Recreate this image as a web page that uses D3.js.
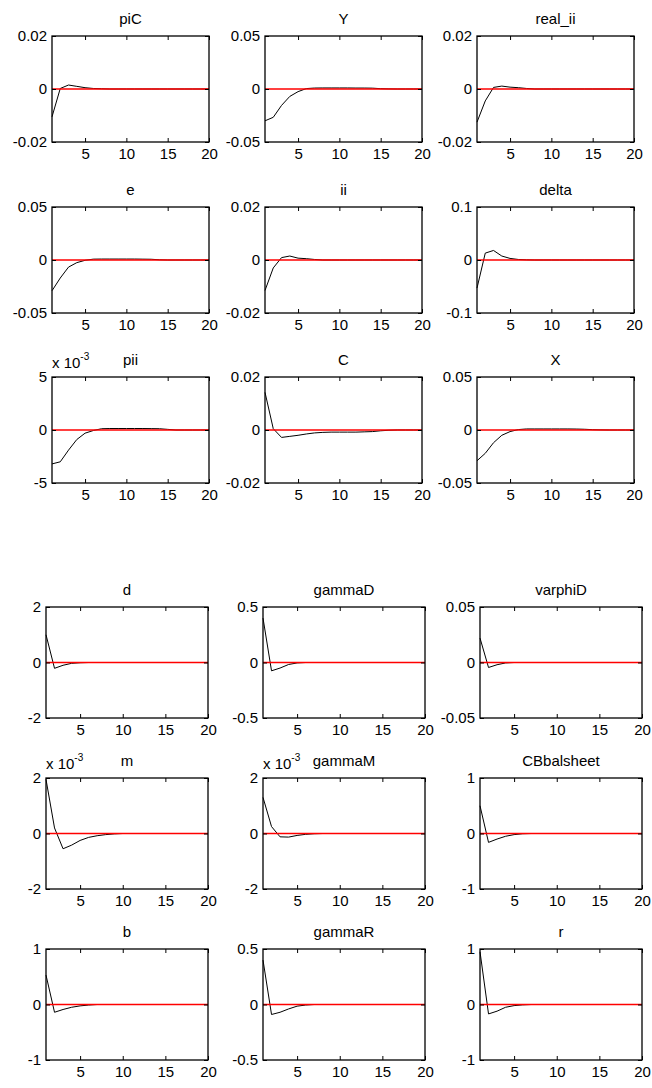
<!DOCTYPE html>
<html><head><meta charset="utf-8">
<script src="https://cdn.jsdelivr.net/npm/d3@7"></script>
<style>
body{margin:0;background:#fff}
text{font-family:"Liberation Sans",Arial,Helvetica,sans-serif;fill:#000}
</style>
</head><body>
<svg id="chart" width="652" height="1088"></svg>
<script>
// ---------- data ----------
const periods = [1,2,3,4,5,6,7,8,9,10,11,12,13,14,15,16,17,18,19,20];
const xTickValues = [5,10,15,20];

// top figure
const topTitles = ["piC","Y","real_ii","e","ii","delta","pii","C","X"];
const piC    = [-0.0105,0.0002,0.0015,0.0010,0.0005,0.0002,0.0001,0,0,0,0,0,0,0,0,0,0,0,0,0];
const Y      = [-0.0300,-0.0267,-0.0155,-0.0070,-0.0025,0.0004,0.0009,0.0010,0.0010,0.0010,0.0010,0.0009,0.0009,0.0008,0.0003,0.0001,0,0,0,0];
const real_ii= [-0.0125,-0.0045,0.0006,0.0011,0.0007,0.0005,0.0002,0,0,0,0,0,0,0,0,0,0,0,0,0];
const e      = [-0.0290,-0.0170,-0.0067,-0.0025,-0.0003,0.0008,0.0009,0.0009,0.0009,0.0009,0.0009,0.0008,0.0007,0.0002,0,0,0,0,0,0];
const ii     = [-0.0115,-0.0030,0.0009,0.0015,0.0007,0.0005,0.0002,0,0,0,0,0,0,0,0,0,0,0,0,0];
const delta  = [-0.0530,0.0130,0.0180,0.0075,0.0030,0.0010,0.0003,0,0,0,0,0,0,0,0,0,0,0,0,0];
const pii    = [-0.0032,-0.0030,-0.0019,-0.0009,-0.0003,-0.00005,0.00012,0.00014,0.00014,0.00014,0.00014,0.00014,0.00013,0.00012,0.00006,0,0,0,0,0];
const C      = [0.0142,0.0005,-0.0028,-0.0024,-0.0020,-0.0015,-0.0011,-0.0009,-0.0008,-0.0008,-0.0008,-0.0008,-0.0007,-0.0006,-0.0003,-0.0001,0,0,0,0];
const X      = [-0.0290,-0.0220,-0.0120,-0.0050,-0.0015,0.0004,0.0010,0.0010,0.0010,0.0010,0.0010,0.0010,0.0009,0.0007,0.0003,0.0001,0,0,0,0];
const topSeries = [piC,Y,real_ii,e,ii,delta,pii,C,X];
const topYMax   = [0.02,0.05,0.02,0.05,0.02,0.1,0.005,0.02,0.05];
const topYTickLabels = [
  ["-0.02","0","0.02"],["-0.05","0","0.05"],["-0.02","0","0.02"],
  ["-0.05","0","0.05"],["-0.02","0","0.02"],["-0.1","0","0.1"],
  ["-5","0","5"],["-0.02","0","0.02"],["-0.05","0","0.05"]];
const topExponent = [null,null,null,null,null,null,"-3",null,null];

// bottom figure
const botTitles = ["d","gammaD","varphiD","m","gammaM","CBbalsheet","b","gammaR","r"];
const d_      = [1.00,-0.21,-0.10,-0.03,-0.01,0,0,0,0,0,0,0,0,0,0,0,0,0,0,0];
const gammaD  = [0.40,-0.075,-0.050,-0.018,-0.004,0,0,0,0,0,0,0,0,0,0,0,0,0,0,0];
const varphiD = [0.022,-0.0045,-0.0020,-0.0004,0,0,0,0,0,0,0,0,0,0,0,0,0,0,0,0];
const m       = [0.00195,0.0002,-0.00055,-0.00042,-0.00025,-0.00014,-0.00008,-0.00004,-0.000015,0,0,0,0,0,0,0,0,0,0,0];
const gammaM  = [0.0013,0.00025,-0.00012,-0.00013,-0.00007,-0.00003,-0.00001,0,0,0,0,0,0,0,0,0,0,0,0,0];
const CBbalsheet = [0.50,-0.16,-0.10,-0.05,-0.02,-0.005,0,0,0,0,0,0,0,0,0,0,0,0,0,0];
const b       = [0.53,-0.14,-0.09,-0.05,-0.025,-0.01,0,0,0,0,0,0,0,0,0,0,0,0,0,0];
const gammaR  = [0.40,-0.09,-0.07,-0.04,-0.015,-0.005,0,0,0,0,0,0,0,0,0,0,0,0,0,0];
const r       = [0.95,-0.17,-0.12,-0.05,-0.02,-0.007,0,0,0,0,0,0,0,0,0,0,0,0,0,0];
const botSeries = [d_,gammaD,varphiD,m,gammaM,CBbalsheet,b,gammaR,r];
const botYMax   = [2,0.5,0.05,0.002,0.002,1,1,0.5,1];
const botYTickLabels = [
  ["-2","0","2"],["-0.5","0","0.5"],["-0.05","0","0.05"],
  ["-2","0","2"],["-2","0","2"],["-1","0","1"],
  ["-1","0","1"],["-0.5","0","0.5"],["-1","0","1"]];
const botExponent = [null,null,null,"-3","-3",null,null,null,null];

// ---------- layout ----------
const svg = d3.select("#chart");
const FS = 15;
const groups = [
  {lefts:[52,265,477], w:157, tops:[36,207,377], h:106,
   titles:topTitles, series:topSeries, ymax:topYMax, labels:topYTickLabels, expo:topExponent},
  {lefts:[46,263,480], w:162, tops:[607,778,949], h:111,
   titles:botTitles, series:botSeries, ymax:botYMax, labels:botYTickLabels, expo:botExponent}
];

groups.forEach(G => {
  G.titles.forEach((title, i) => {
    const left = G.lefts[i % 3], top = G.tops[Math.floor(i / 3)];
    const w = G.w, h = G.h;
    const x = d3.scaleLinear().domain([1, 20]).range([left, left + w]);
    const ym = G.ymax[i];
    const y = d3.scaleLinear().domain([-ym, ym]).range([top + h, top]);
    const g = svg.append("g");
    const yVals = [-ym, 0, ym];
    const labs = G.labels[i];

    // response line
    g.append("path")
      .datum(G.series[i])
      .attr("fill", "none").attr("stroke", "#000").attr("stroke-width", 1)
      .attr("d", d3.line().x((v, k) => x(periods[k])).y(v => y(v)));

    // zero (steady-state) line, drawn on top
    g.append("path")
      .datum(periods)
      .attr("fill", "none").attr("stroke", "#ff0000").attr("stroke-width", 1.5)
      .attr("d", d3.line().x(t => x(t)).y(() => y(0)));

    // axes
    const bottomAx = d3.axisBottom(x).tickValues(xTickValues).tickSizeInner(-4).tickSizeOuter(0).tickPadding(6);
    const topAx = d3.axisTop(x).tickValues(xTickValues).tickSizeInner(-4).tickSizeOuter(0).tickFormat("");
    const leftAx = d3.axisLeft(y).tickValues(yVals).tickSizeInner(-4).tickSizeOuter(0).tickPadding(5)
      .tickFormat((v, k) => labs[k]);
    const rightAx = d3.axisRight(y).tickValues(yVals).tickSizeInner(-4).tickSizeOuter(0).tickFormat("");

    [[bottomAx, `translate(0,${top + h})`], [topAx, `translate(0,${top})`],
     [leftAx, `translate(${left},0)`], [rightAx, `translate(${left + w},0)`]].forEach(([ax, tr]) => {
      const a = g.append("g").attr("transform", tr).call(ax);
      a.select(".domain").remove();
      a.selectAll("line").attr("stroke", "#000");
      a.selectAll("text").attr("font-size", FS).attr("font-family", "Liberation Sans, Arial, sans-serif").attr("fill", "#000");
    });

    // box
    g.append("rect")
      .attr("x", left).attr("y", top).attr("width", w).attr("height", h)
      .attr("fill", "none").attr("stroke", "#000").attr("stroke-width", 1.3);

    // title
    g.append("text")
      .attr("x", left + w / 2).attr("y", top - 12)
      .attr("text-anchor", "middle").attr("font-size", FS)
      .text(title);

    // exponent label
    if (G.expo[i]) {
      const t = g.append("text").attr("x", left).attr("y", top - 9).attr("font-size", FS);
      t.append("tspan").text("x 10");
      t.append("tspan").attr("font-size", 10).attr("dy", -8).text(G.expo[i]);
    }
  });
});
</script>
</body></html>
